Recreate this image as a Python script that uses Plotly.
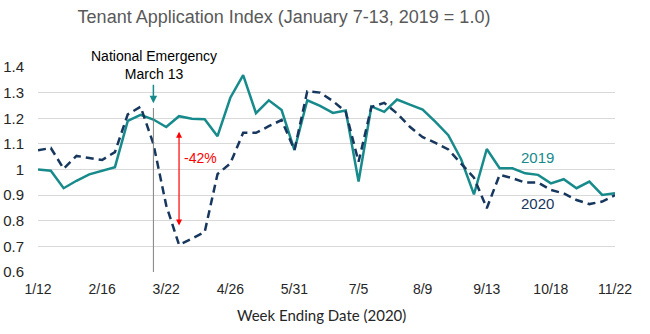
import pandas as pd
import plotly.graph_objects as go

# Weekly index values, week ending 1/12/2020 through 11/22/2020
week_ending = pd.date_range("2020-01-12", periods=46, freq="7D")

index_2019 = [
    1.000, 0.995, 0.927, 0.956, 0.981, 0.994, 1.009, 1.190, 1.213, 1.195,
    1.166, 1.208, 1.198, 1.196, 1.130, 1.280, 1.368, 1.220, 1.270, 1.232,
    1.076, 1.270, 1.248, 1.221, 1.230, 0.953, 1.246, 1.225, 1.273, 1.253,
    1.234, 1.186, 1.134, 1.040, 0.903, 1.080, 1.005, 1.005, 0.985, 0.979,
    0.946, 0.962, 0.927, 0.953, 0.901, 0.907,
]

index_2020 = [
    1.075, 1.084, 1.003, 1.053, 1.045, 1.037, 1.068, 1.215, 1.245, 1.100,
    0.860, 0.706, 0.730, 0.756, 0.982, 1.024, 1.143, 1.143, 1.169, 1.193,
    1.076, 1.305, 1.300, 1.267, 1.225, 1.030, 1.244, 1.260, 1.219, 1.167,
    1.126, 1.104, 1.078, 1.024, 0.968, 0.849, 0.979, 0.966, 0.949, 0.949,
    0.920, 0.907, 0.881, 0.865, 0.875, 0.900,
]

y_ticks = [0.6, 0.7, 0.8, 0.9, 1.0, 1.1, 1.2, 1.3, 1.4]
y_tick_text = ["0.6", "0.7", "0.8", "0.9", "1", "1.1", "1.2", "1.3", "1.4"]

TEAL = "#178a8c"
NAVY = "#17375e"
RED = "#ff0000"
GRID = "#d9d9d9"

emergency_week = week_ending[9]
trough_week = week_ending[11]

fig = go.Figure()
fig.add_trace(go.Scatter(
    x=week_ending, y=index_2019, mode="lines", name="2019",
    line=dict(color=TEAL, width=2.5),
))
fig.add_trace(go.Scatter(
    x=week_ending, y=index_2020, mode="lines", name="2020",
    line=dict(color=NAVY, width=2.5, dash="8px,5px"),
))

# National emergency marker
fig.add_shape(type="line", xref="x", yref="y",
              x0=emergency_week, x1=emergency_week, y0=0.6, y1=1.24,
              line=dict(color="#808080", width=1))
fig.add_annotation(x=emergency_week, y=1.259, ax=emergency_week, ay=1.337,
                   xref="x", yref="y", axref="x", ayref="y",
                   showarrow=True, arrowhead=2, arrowsize=1, arrowwidth=1.5,
                   arrowcolor=TEAL, text="")
fig.add_annotation(x=0.201, y=1.011, xref="paper", yref="paper",
                   text="National Emergency<br>March 13", showarrow=False,
                   xanchor="center", yanchor="middle",
                   font=dict(family="Liberation Sans", size=14, color="#000000"))

# Drop from 2019 level to the 2020 trough
fig.add_annotation(x=trough_week, y=1.147, ax=trough_week, ay=0.776,
                   xref="x", yref="y", axref="x", ayref="y",
                   showarrow=True, arrowhead=2, startarrowhead=2,
                   arrowside="end+start", arrowsize=1, arrowwidth=1.2,
                   arrowcolor=RED, text="")
fig.add_annotation(x=0.281, y=0.555, xref="paper", yref="paper",
                   text="-42%", showarrow=False,
                   xanchor="center", yanchor="middle",
                   font=dict(family="Liberation Sans", size=14, color=RED))

# Series labels
fig.add_annotation(x=0.865, y=0.560, xref="paper", yref="paper", text="2019",
                   showarrow=False, xanchor="center", yanchor="middle",
                   font=dict(family="Liberation Sans", size=15, color=TEAL))
fig.add_annotation(x=0.865, y=0.336, xref="paper", yref="paper", text="2020",
                   showarrow=False, xanchor="center", yanchor="middle",
                   font=dict(family="Liberation Sans", size=15, color=NAVY))

# Axis title
fig.add_annotation(x=0.492, y=-0.209, xref="paper", yref="paper",
                   text="Week Ending Date (2020)", showarrow=False,
                   xanchor="center", yanchor="middle",
                   font=dict(family="Lato", size=15, color="#262626"))

fig.update_layout(
    width=650, height=334,
    margin=dict(l=38, r=35, t=67, b=62),
    paper_bgcolor="white", plot_bgcolor="white",
    showlegend=False,
    title=dict(text="Tenant Application Index (January 7-13, 2019 = 1.0)",
               x=284 / 650, xanchor="center", xref="container",
               y=1 - 17 / 334, yanchor="middle", yref="container",
               font=dict(family="Liberation Sans", size=18, color="#595959")),
    font=dict(family="Liberation Sans", size=14, color="#262626"),
)
fig.update_xaxes(
    type="date", range=[week_ending[0], week_ending[-1]],
    tick0=week_ending[0], dtick=35 * 24 * 3600 * 1000,
    tickformat="%-m/%-d", showgrid=False, showline=False, zeroline=False,
    ticks="", ticklabelstandoff=7, automargin=False,
)
fig.update_yaxes(
    range=[0.6, 1.4], tickvals=y_ticks, ticktext=y_tick_text,
    showgrid=True, gridcolor=GRID, gridwidth=1, zeroline=False,
    showline=False, ticks="", ticklabelstandoff=13, automargin=False,
    tickfont=dict(size=15),
)

fig.write_html("out.html")
